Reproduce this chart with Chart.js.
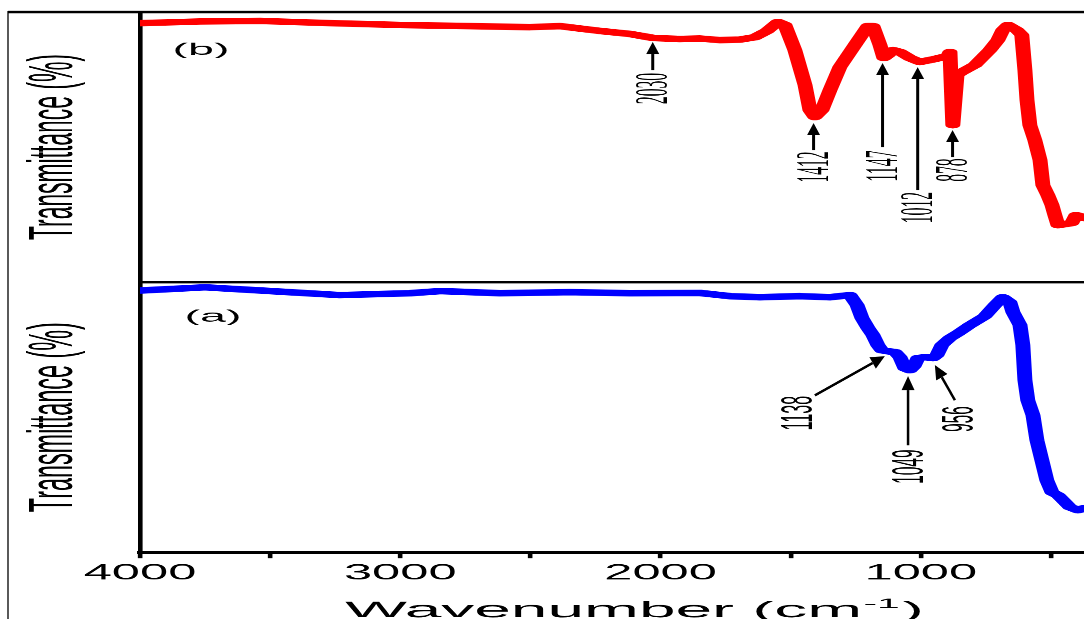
<!DOCTYPE html>
<html>
<head>
<meta charset="utf-8">
<script src="https://cdn.jsdelivr.net/npm/chart.js@4.4.1/dist/chart.umd.min.js"></script>
<style>
html,body{margin:0;padding:0;background:#fff;overflow:hidden;}
#c{display:block;}
</style>
</head>
<body>
<canvas id="c" width="471" height="619" style="width:1084px;height:619px"></canvas>
<script>
// ---- data: sample (b), top panel ----
const wavenumberB = [3996,3770,3539,3270,3001,2732,2502,2387,2329,2233,2118,2029,1926,1849,1772,1695,1637,1591,1549,1522,1484,1445,1426,1407,1380,1349,1311,1253,1203,1184,1157,1142,1126,1107,1080,1042,1004,946,896,888,877,869,861,842,792,735,704,685,665,631,612,600,592,581,562,542,531,512,496,485,473,446,420,404,389,373];
const transmittanceB = [95.9,96.5,96.7,95.9,95.2,94.8,94.4,94.8,94.1,93.0,91.9,90.4,90.0,90.2,89.6,89.8,90.7,93.0,96.3,95.2,85.9,73.0,63.7,61.1,63.7,71.1,79.6,87.8,94.8,94.8,87.8,83.0,84.1,85.9,85.2,83.0,81.5,82.6,83.7,85.2,58.1,58.1,76.7,77.8,80.4,85.9,89.6,93.3,95.2,93.3,91.5,78.5,67.4,58.1,52.6,45.2,35.9,32.2,28.5,24.8,21.1,21.5,21.9,24.8,24.4,23.7];

// ---- data: sample (a), bottom panel ----
const wavenumberA = [3996,3750,3501,3232,2963,2847,2617,2348,2118,1849,1733,1618,1464,1349,1272,1245,1226,1203,1184,1165,1150,1126,1099,1080,1061,1042,1026,1011,984,953,938,919,888,857,811,754,715,685,658,646,619,608,600,589,569,554,535,516,496,473,454,427,396,373];
const transmittanceA = [96.9,98.1,96.7,95.2,95.9,96.7,95.9,96.3,95.9,96.0,94.8,94.4,94.8,94.4,95.2,91.5,86.7,83.0,80.4,76.7,74.8,74.4,74.1,72.2,68.1,67.4,68.9,71.9,72.2,71.9,73.0,76.7,79.3,81.1,84.1,87.4,91.5,94.4,92.6,88.9,84.1,76.7,63.7,56.3,50.7,41.5,34.1,26.7,22.2,21.1,19.3,16.7,15.6,16.3];

// ---- axis ticks ----
const xTickValues = [500,1000,1500,2000,2500,3000,3500,4000];
const xTickLabels = ['', '1000', '', '2000', '', '3000', '', '4000'];
const xMin = 373, xMax = 4000;

// ---- peak annotations (wavenumber, arrow tip / tail and label centre in panel units) ----
const peaksB = [
  {label:'2030', wn:2030, tip:88.9, tailWn:2030, tail:78.5, textWn:2030, text:71.7},
  {label:'1412', wn:1412, tip:58.9, tailWn:1412, tail:48.9, textWn:1412, text:42.6},
  {label:'1147', wn:1147, tip:81.1, tailWn:1147, tail:50.0, textWn:1147, text:43.0},
  {label:'1012', wn:1012, tip:79.6, tailWn:1012, tail:34.1, textWn:1012, text:27.6},
  {label:'878',  wn:878,  tip:56.3, tailWn:878,  tail:46.3, textWn:878,  text:41.5}
];
const peaksA = [
  {label:'1138', wn:1138, tip:72.6, tailWn:1407, tail:58.1, textWn:1465, text:51.5},
  {label:'1049', wn:1049, tip:65.2, tailWn:1049, tail:39.6, textWn:1040, text:31.7},
  {label:'956',  wn:946,  tip:69.3, tailWn:869,  tail:56.3, textWn:846,  text:49.3}
];

const S = 1084 / 471;          // horizontal stretch of the figure
const LEFT = 140 / S;          // chart-area left edge (logical units)

function rotText(ctx, str, cx, cy, font, len, baseline) {
  ctx.save();
  ctx.translate(cx, cy);
  ctx.rotate(-Math.PI / 2);
  ctx.font = font;
  const w = ctx.measureText(str).width;
  ctx.scale(len / w, 1);
  ctx.textAlign = 'center';
  ctx.textBaseline = baseline || 'middle';
  ctx.fillText(str, 0, 0);
  ctx.restore();
}

function arrow(ctx, x1, y1, x2, y2, lw, headW, headL) {
  const a = Math.atan2(y2 - y1, x2 - x1);
  const bx = x2 - headL * Math.cos(a), by = y2 - headL * Math.sin(a);
  ctx.lineWidth = lw;
  ctx.beginPath(); ctx.moveTo(x1, y1); ctx.lineTo(bx, by); ctx.stroke();
  ctx.beginPath();
  ctx.moveTo(x2, y2);
  ctx.lineTo(bx + headW / 2 * Math.sin(a), by - headW / 2 * Math.cos(a));
  ctx.lineTo(bx - headW / 2 * Math.sin(a), by + headW / 2 * Math.cos(a));
  ctx.closePath(); ctx.fill();
}

const decor = {
  id: 'decor',
  afterDraw(chart) {
    const {ctx, scales} = chart;
    const x = scales.x, yT = scales.yTop, yB = scales.yBot;
    const X = v => x.getPixelForValue(v) * S;   // screen px
    ctx.save();
    ctx.scale(1 / S, 1);                        // draw in screen pixels
    ctx.strokeStyle = '#000';
    ctx.fillStyle = '#000';
    const left = x.left * S, right = x.right * S;
    const top = Math.min(yT.top, yB.top);
    const mid = (yT.top < yB.top) ? yT.bottom : yB.bottom;
    // outer frame and panel borders
    ctx.lineWidth = 2.5;
    ctx.beginPath(); ctx.moveTo(8, top); ctx.lineTo(right, top); ctx.stroke();
    ctx.beginPath(); ctx.moveTo(left, mid); ctx.lineTo(right, mid); ctx.stroke();
    ctx.lineWidth = 1.3;
    ctx.beginPath(); ctx.moveTo(8, top - 1); ctx.lineTo(8, chart.height); ctx.stroke();

    // y titles
    const yFont = "63px 'Liberation Sans', Arial, sans-serif";
    rotText(ctx, 'Transmittance (%)', 72, (yT.top + yT.bottom) / 2, yFont, 186, 'alphabetic');
    rotText(ctx, 'Transmittance (%)', 72, (yB.top + yB.bottom) / 2, yFont, 190, 'alphabetic');

    // panel letters
    const panelLetter = (t, cx, cy) => {
      ctx.save();
      ctx.font = "17px 'Liberation Sans', Arial, sans-serif";
      const w = ctx.measureText(t).width;
      ctx.translate(cx, cy);
      ctx.scale(57 / w, 1);
      ctx.textAlign = 'center'; ctx.textBaseline = 'middle';
      ctx.fillText(t, 0, 0);
      ctx.restore();
    };
    panelLetter('(b)', left + 61, yT.top + 38);
    panelLetter('(a)', left + 73, yB.top + 35);

    // x title
    ctx.save();
    const f = 22.4, fam = "'Liberation Sans', Arial, sans-serif";
    ctx.translate(345, 617);
    ctx.scale(2.94, 1);
    ctx.textBaseline = 'alphabetic'; ctx.textAlign = 'left';
    ctx.font = f + 'px ' + fam;
    const t1 = 'Wavenumber (cm';
    ctx.fillText(t1, 0, 0);
    let w = ctx.measureText(t1).width + 0.5;
    ctx.font = (f * 0.62) + 'px ' + fam;
    ctx.fillText('-1', w, -f * 0.4);
    w += ctx.measureText('-1').width + 0.8;
    ctx.font = f + 'px ' + fam;
    ctx.fillText(')', w, 0);
    ctx.restore();

    // annotations (b)
    peaksB.forEach(p => {
      arrow(ctx, X(p.tailWn), yT.getPixelForValue(p.tail), X(p.wn), yT.getPixelForValue(p.tip), 3, 13, 12);
      rotText(ctx, p.label, X(p.textWn) + 2, yT.getPixelForValue(p.text),
        "47px 'Liberation Serif', 'Times New Roman', serif", p.label.length * 7.8);
    });
    // annotations (a)
    peaksA.forEach(p => {
      arrow(ctx, X(p.tailWn), yB.getPixelForValue(p.tail), X(p.wn), yB.getPixelForValue(p.tip), 2.5, 13, 14);
      rotText(ctx, p.label, X(p.textWn), yB.getPixelForValue(p.text),
        "44px 'Liberation Sans', Arial, sans-serif", p.label.length * 8.6);
    });
    ctx.restore();
  }
};

const toPoints = (xs, ys) => xs.map((v, i) => ({x: v, y: ys[i]}));

new Chart(document.getElementById('c'), {
  type: 'scatter',
  data: {
    datasets: [
      {label: '(b)', data: toPoints(wavenumberB, transmittanceB), yAxisID: 'yTop',
       showLine: true, borderColor: '#ff0000', borderWidth: 6.5, pointRadius: 0,
       borderJoinStyle: 'round', borderCapStyle: 'round', tension: 0},
      {label: '(a)', data: toPoints(wavenumberA, transmittanceA), yAxisID: 'yBot',
       showLine: true, borderColor: '#0000ff', borderWidth: 6.5, pointRadius: 0,
       borderJoinStyle: 'round', borderCapStyle: 'round', tension: 0}
    ]
  },
  options: {
    responsive: false,
    devicePixelRatio: S,
    animation: false,
    events: [],
    layout: {padding: {top: 12, right: 0, bottom: 0, left: 0}},
    plugins: {legend: {display: false}, tooltip: {enabled: false}},
    scales: {
      x: {
        type: 'linear', reverse: true, min: xMin, max: xMax, position: 'bottom',
        afterFit(s) { s.height = 67; },
        afterBuildTicks(s) { s.ticks = xTickValues.map(v => ({value: v})); },
        ticks: {
          autoSkip: false, maxRotation: 0, color: '#000', padding: 2,
          font: {family: "'Liberation Sans', Arial, sans-serif", size: 22},
          callback: (v) => { const i = xTickValues.indexOf(v); return i >= 0 ? xTickLabels[i] : ''; }
        },
        grid: {display: true, drawOnChartArea: false, drawTicks: true, tickLength: 6, tickWidth: 2, tickColor: '#000'},
        border: {display: true, color: '#000', width: 3}
      },
      yBot: {
        type: 'linear', position: 'left', stack: 'ir', stackWeight: 1, min: 0, max: 100,
        afterFit(s) { s.width = LEFT; },
        ticks: {display: false}, grid: {display: false},
        border: {display: true, color: '#000', width: 2}
      },
      yTop: {
        type: 'linear', position: 'left', stack: 'ir', stackWeight: 1, min: 0, max: 100,
        afterFit(s) { s.width = LEFT; },
        ticks: {display: false}, grid: {display: false},
        border: {display: true, color: '#000', width: 2}
      }
    }
  },
  plugins: [decor]
});
</script>
</body>
</html>
